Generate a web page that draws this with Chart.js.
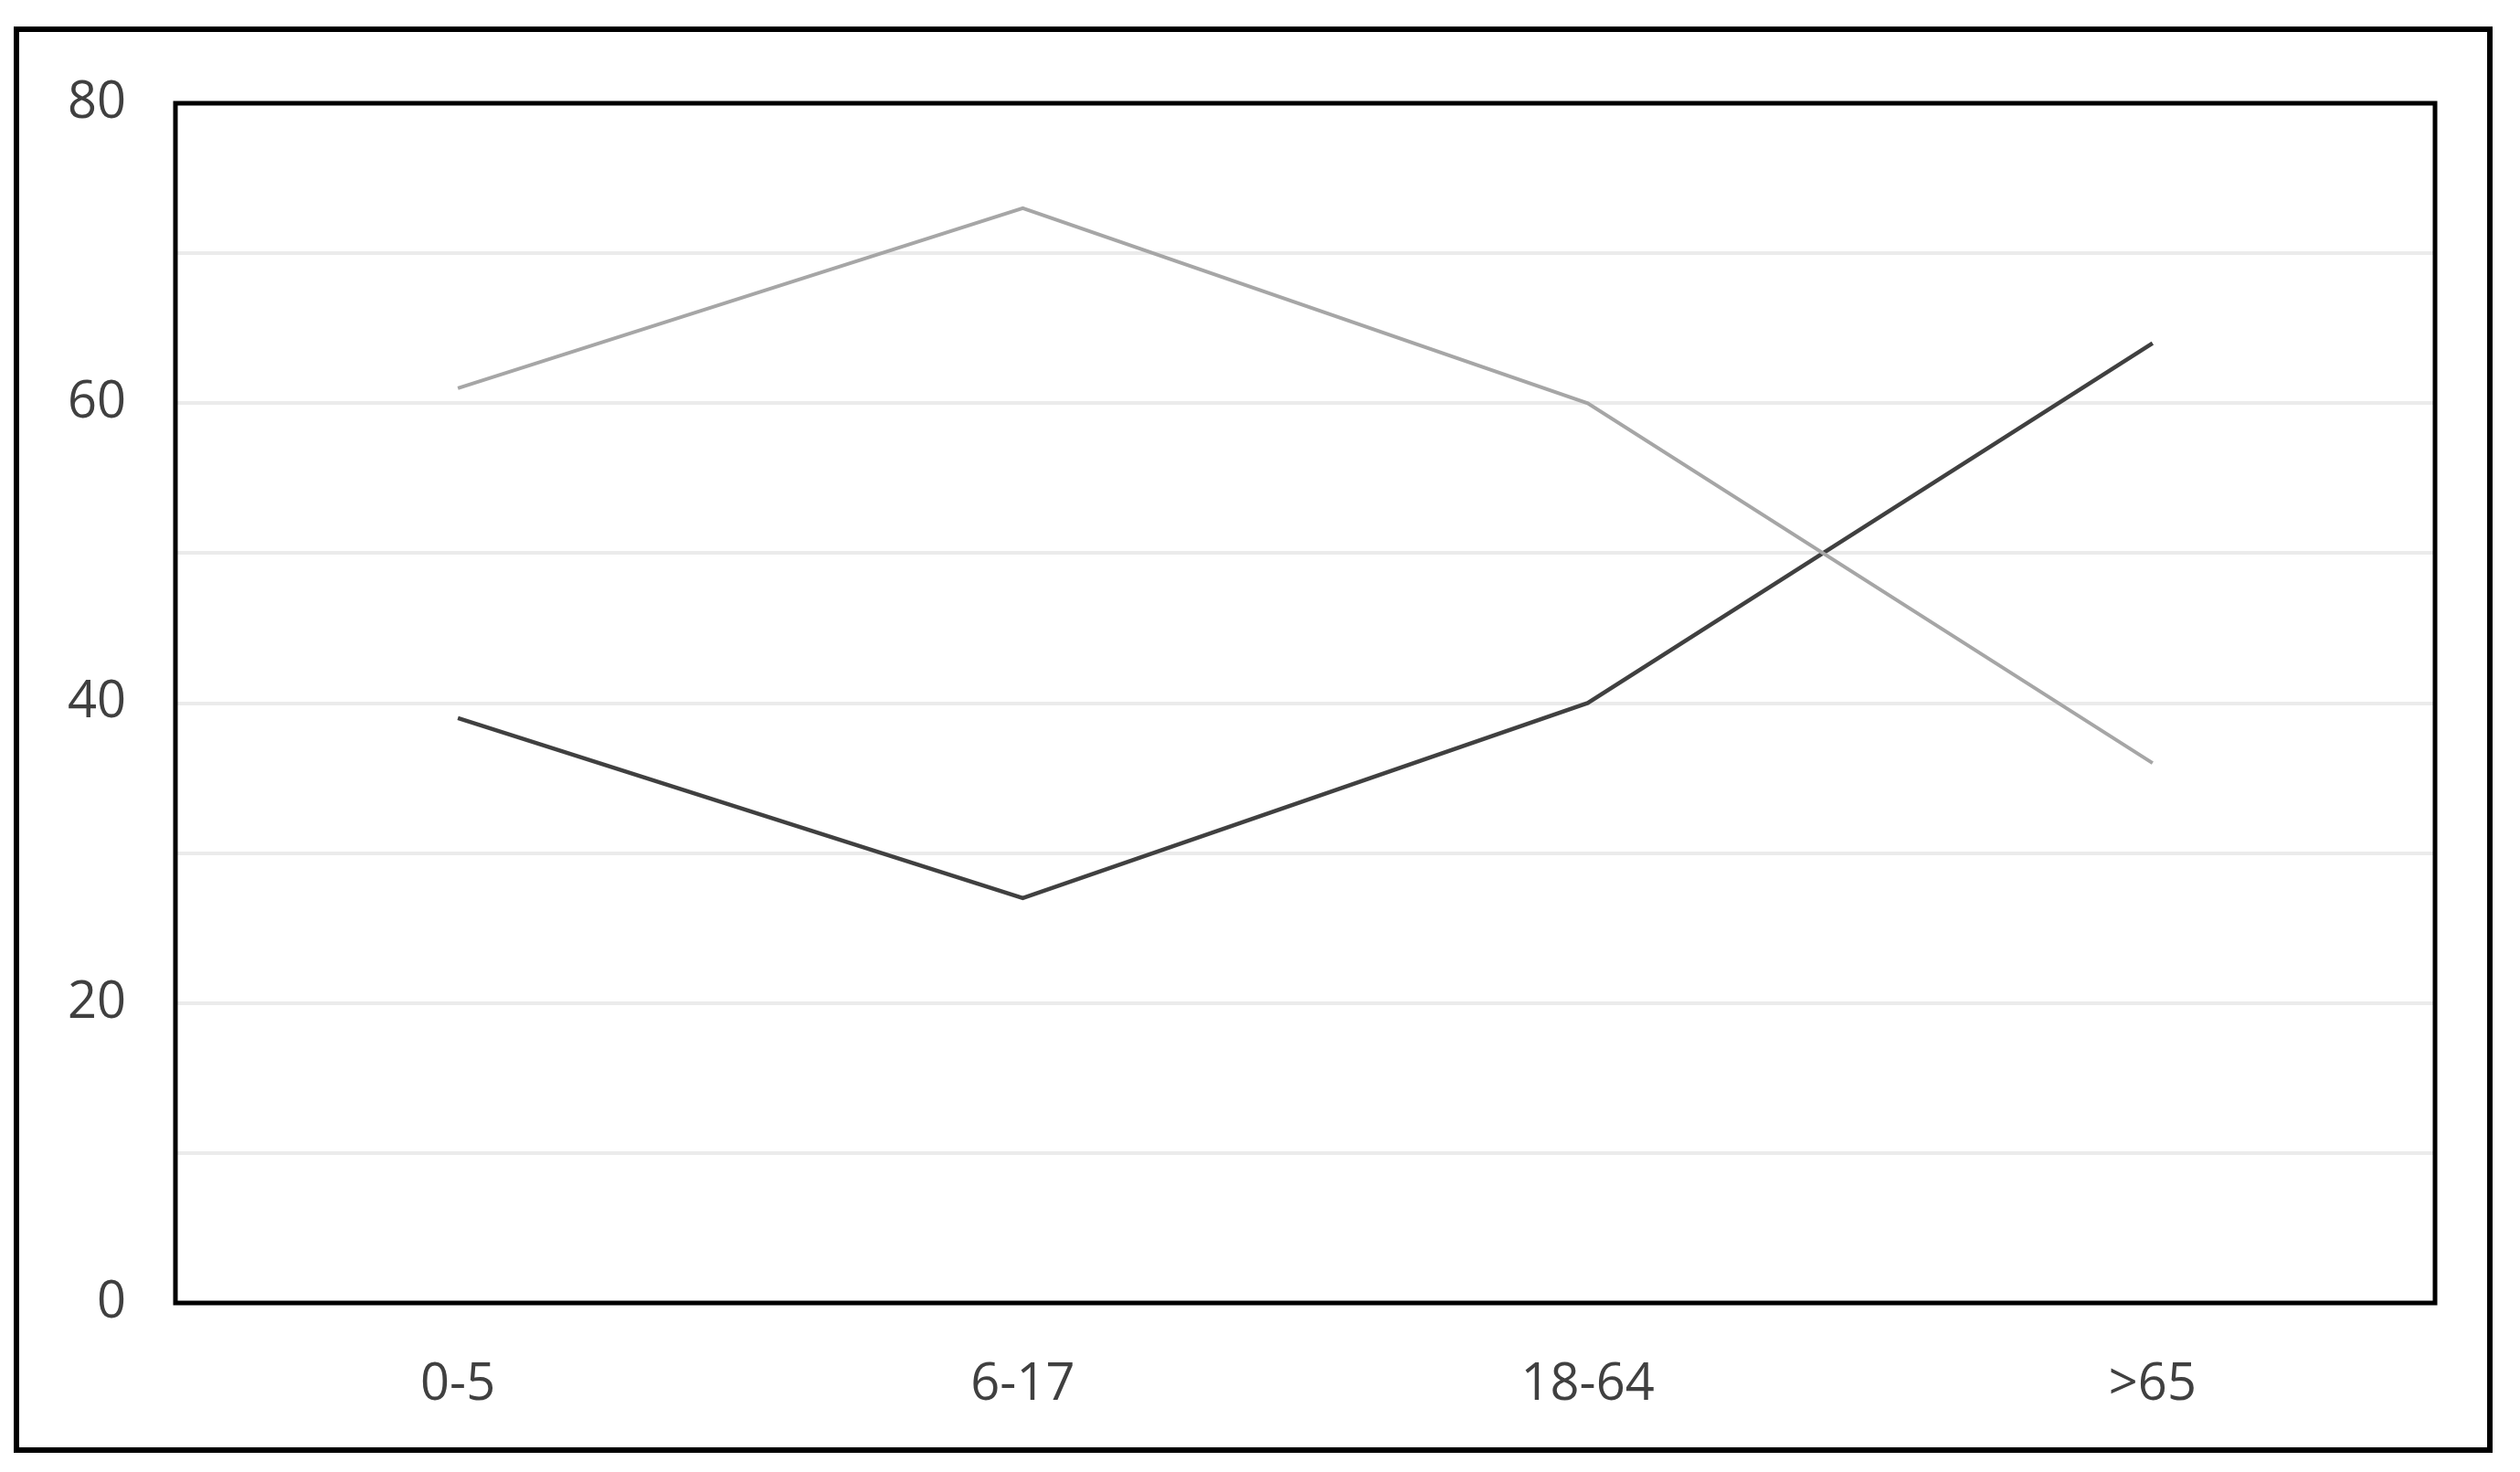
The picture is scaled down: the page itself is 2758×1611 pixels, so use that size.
<!DOCTYPE html>
<html>
<head>
<meta charset="utf-8">
<script src="https://cdn.jsdelivr.net/npm/chart.js@4"></script>
<style>
  html, body { margin: 0; padding: 0; background: #fff; }
  canvas { display: block; }
</style>
</head>
<body>
<canvas id="chart" width="2758" height="1611" style="width:2758px;height:1611px"></canvas>
<script>
  // data
  const categories = ['0-5', '6-17', '18-64', '>65'];
  const seriesLight = [61, 73, 60, 36];
  const seriesDark = [39, 27, 40, 64];
  const yMin = 0;
  const yMax = 80;

  const TEXT = '#404040';
  const FONT = { family: '"Open Sans", "Noto Sans", sans-serif', size: 56 };

  // black frame round the plot area and round the whole picture
  const framePlugin = {
    id: 'frames',
    afterDraw(chart) {
      const { ctx, chartArea: a } = chart;
      ctx.save();
      ctx.strokeStyle = '#000';
      ctx.lineWidth = 5;
      ctx.strokeRect(a.left, a.top, a.right - a.left, a.bottom - a.top);
      ctx.lineWidth = 6;
      ctx.strokeRect(18, 32, 2707, 1555);
      ctx.restore();
    }
  };

  new Chart(document.getElementById('chart').getContext('2d'), {
    type: 'line',
    plugins: [framePlugin],
    data: {
      labels: categories,
      datasets: [
        {
          data: seriesLight,
          borderColor: '#a6a6a6',
          borderWidth: 4,
          pointRadius: 0,
          tension: 0
        },
        {
          data: seriesDark,
          borderColor: '#404040',
          borderWidth: 4.5,
          pointRadius: 0,
          tension: 0
        }
      ]
    },
    options: {
      responsive: false,
      devicePixelRatio: 1,
      animation: false,
      layout: { padding: { left: 0, top: 113, right: 93, bottom: 0 } },
      plugins: {
        legend: { display: false },
        tooltip: { enabled: false }
      },
      scales: {
        x: {
          offset: true,
          grid: { display: false },
          border: { display: false },
          ticks: { color: TEXT, font: FONT, padding: 48 },
          afterFit: s => { s.height = 185; }
        },
        y: {
          min: yMin,
          max: yMax,
          grid: { color: '#ebebeb', lineWidth: 4, drawTicks: false },
          border: { display: false },
          ticks: {
            stepSize: 10,
            color: TEXT,
            font: FONT,
            padding: 54,
            callback: v => (v % 20 === 0 ? String(v) : '')
          },
          afterFit: s => { s.width = 192; }
        }
      }
    }
  });
</script>
</body>
</html>
